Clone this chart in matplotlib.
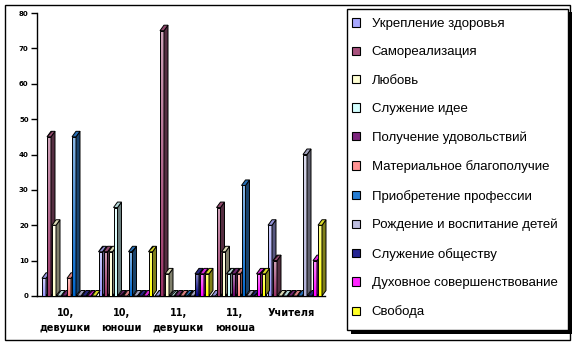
import numpy as np
import matplotlib.pyplot as plt
from matplotlib.patches import Polygon, Patch, Rectangle
from matplotlib import colors as mcolors

plt.rcParams['font.family'] = ['Liberation Sans', 'DejaVu Sans']
plt.rcParams['hatch.linewidth'] = 0.7

# categories and series
groups = ['10,\nдевушки', '10,\nюноши', '11,\nдевушки', '11,\nюноша', 'Учителя']
series_names = ['Укрепление здоровья', 'Самореализация', 'Любовь', 'Служение идее',
                'Получение удовольствий', 'Материальное благополучие',
                'Приобретение профессии', 'Рождение и воспитание детей',
                'Служение обществу', 'Духовное совершенствование', 'Свобода']
series_colors = ['#9999FF', '#993366', '#FFFFCC', '#CCFFFF', '#660066', '#FF8080',
                 '#0066CC', '#B0B0D8', '#000080', '#FF00FF', '#FFFF00']

ukreplenie = [5, 12.5, 0, 0, 20]
samorealizatsiya = [45, 12.5, 75, 25, 10]
lyubov = [20, 12.5, 6.25, 12.5, 0]
sluzhenie_idee = [0, 25, 0, 6.25, 0]
poluchenie = [0, 0, 0, 6.25, 0]
materialnoe = [5, 0, 0, 6.25, 0]
professiya = [45, 12.5, 0, 31.25, 0]
rozhdenie = [0, 0, 0, 0, 40]
obshchestvo = [0, 0, 6.25, 0, 0]
dukhovnoe = [0, 0, 6.25, 6.25, 10]
svoboda = [0, 12.5, 6.25, 6.25, 20]

series_values = [ukreplenie, samorealizatsiya, lyubov, sluzhenie_idee, poluchenie,
                 materialnoe, professiya, rozhdenie, obshchestvo, dukhovnoe, svoboda]

W, H = 577, 345
fig = plt.figure(figsize=(W / 100, H / 100), dpi=100)
ax = fig.add_axes([37 / W, 49 / H, 288 / W, 283 / H])

# pixel geometry of the pseudo-3D columns
cat_px = 56.5
y_px = 283 / 80
step = 5 / cat_px
width = 4 / cat_px
dx = 4 / cat_px
dy = 5.5 / y_px

x_base = np.arange(len(groups)) - 0.5 + 5 / cat_px


def mix(c, other, t):
    a = np.array(mcolors.to_rgb(c))
    b = np.array(mcolors.to_rgb(other))
    return tuple(a * (1 - t) + b * t)


for i, (vals, col) in enumerate(zip(series_values, series_colors)):
    z = 10 + i * 4
    xs = x_base + i * step
    bars = ax.bar(xs, vals, width=width, align='edge', facecolor='none',
                  edgecolor='black', linewidth=0.7, zorder=z + 1)
    top_c = np.array(mix(col, 'white', 0.55))
    bot_c = np.array(mcolors.to_rgb(col))
    grad = np.linspace(0, 1, 64)[:, None, None] * (bot_c - top_c) + top_c
    side_c = mix(col, '#2a2a2a', 0.6)
    lid_c = mix(col, '#808080', 0.3)
    for rect in bars:
        x0, h = rect.get_x(), rect.get_height()
        if h > 0:
            im = ax.imshow(grad, extent=(x0, x0 + width, 0, h), aspect='auto',
                           interpolation='bilinear', zorder=z)
            im.set_clip_path(rect)
        ax.add_patch(Polygon([(x0 + width, 0), (x0 + width + dx, dy),
                              (x0 + width + dx, h + dy), (x0 + width, h)],
                             facecolor=side_c, edgecolor='black', linewidth=0.7,
                             zorder=z + 2, clip_on=False))
        ax.add_patch(Polygon([(x0, h), (x0 + dx, h + dy),
                              (x0 + width + dx, h + dy), (x0 + width, h)],
                             facecolor=lid_c, edgecolor='black', linewidth=0.7,
                             hatch='//', zorder=z + 3, clip_on=False))

ax.set_xlim(-0.5, -0.5 + 288 / cat_px)
ax.set_ylim(0, 80)
ax.set_yticks(range(0, 81, 10))
ax.set_yticklabels([str(v) for v in range(0, 81, 10)], fontsize=5,
                   fontweight='bold', family='DejaVu Sans')
ax.set_xticks(range(len(groups)))
ax.set_xticklabels(groups, fontsize=7, fontweight='bold', family='DejaVu Sans',
                   linespacing=1.6)
ax.tick_params(axis='x', length=0, pad=9)
ax.tick_params(axis='y', length=4, width=1, pad=2, direction='out')
for s in ['top', 'right']:
    ax.spines[s].set_visible(False)
ax.spines['left'].set_linewidth(1)
ax.spines['bottom'].set_linewidth(1)
ax.patch.set_alpha(0)

# outer frame, legend box and its shadow
fig.patches.append(Rectangle((5 / W, 1 - 340 / H), 565 / W, 335 / H,
                             transform=fig.transFigure, fill=False,
                             edgecolor='black', linewidth=1))
fig.patches.append(Rectangle((351 / W, 1 - 334 / H), 221 / W, 322 / H,
                             transform=fig.transFigure, facecolor='black',
                             edgecolor='black', linewidth=0))
fig.patches.append(Rectangle((347 / W, 1 - 330 / H), 221 / W, 321 / H,
                             transform=fig.transFigure, facecolor='white',
                             edgecolor='black', linewidth=1))

handles = [Patch(facecolor=mix(c, 'white', 0.15), edgecolor='black', linewidth=0.8)
           for c in series_colors]
fig.legend(handles, series_names, loc='upper left',
           bbox_to_anchor=(352 / W, 1 - 18 / H), frameon=False, fontsize=9.5,
           handlelength=0.6, handleheight=0.6, handletextpad=0.9,
           labelspacing=1.24, borderaxespad=0, borderpad=0)

fig.savefig('out.png', dpi=100)
